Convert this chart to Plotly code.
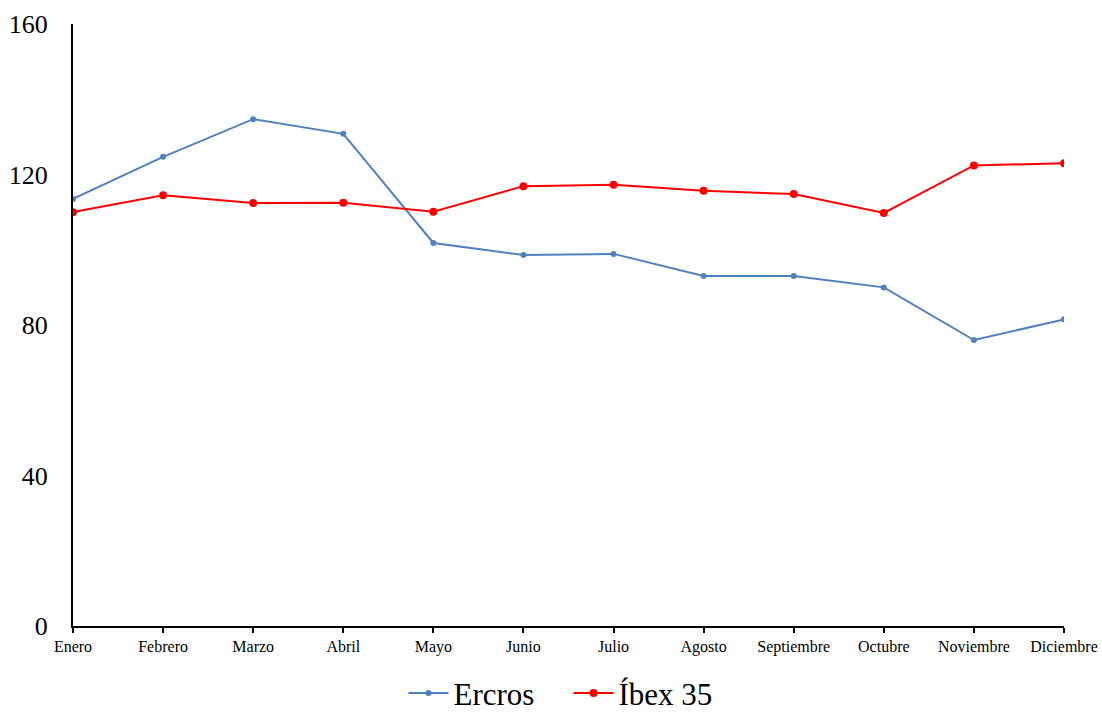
import plotly.graph_objects as go

months = ["Enero", "Febrero", "Marzo", "Abril", "Mayo", "Junio", "Julio",
          "Agosto", "Septiembre", "Octubre", "Noviembre", "Diciembre"]
ercros = [113.5, 124.7, 134.7, 130.8, 101.8, 98.6, 98.9, 93.0, 93.0, 90.0, 76.0, 81.5]
ibex = [110.0, 114.5, 112.4, 112.5, 110.1, 116.9, 117.3, 115.7, 114.8, 109.8, 122.4, 123.0]
y_ticks = [0, 40, 80, 120, 160]

xpos = list(range(len(months)))
FONT = "Liberation Serif, Times New Roman, serif"

fig = go.Figure()
fig.add_trace(go.Scatter(x=xpos, y=ercros, name="Ercros", mode="lines+markers",
                         line=dict(color="#4F81BD", width=2),
                         marker=dict(color="#4F81BD", size=6)))
fig.add_trace(go.Scatter(x=xpos, y=ibex, name="Íbex 35", mode="lines+markers",
                         line=dict(color="#FF0000", width=2),
                         marker=dict(color="#FF0000", size=8)))

fig.update_layout(
    width=1102, height=713,
    margin=dict(l=73, r=38, t=24, b=87, autoexpand=False),
    paper_bgcolor="white", plot_bgcolor="white",
    font=dict(family=FONT, color="black"),
    showlegend=True,
    legend=dict(orientation="h", x=0.5, xanchor="center", y=-0.112, yanchor="middle",
                font=dict(size=31, family=FONT), itemwidth=40,
                entrywidth=110, entrywidthmode="pixels"),
    xaxis=dict(range=[0, 11], tickvals=xpos, ticktext=months, automargin=False,
               showgrid=False, zeroline=False, showline=True, linecolor="black", linewidth=2,
               ticks="outside", ticklen=5, tickwidth=1.5, tickcolor="black",
               tickfont=dict(size=16, family=FONT), tickangle=0),
    yaxis=dict(range=[0, 160], tickvals=y_ticks, automargin=False,
               showgrid=False, zeroline=False, showline=True, linecolor="black", linewidth=2,
               ticks="", tickfont=dict(size=26, family=FONT), ticklabelstandoff=18),
)

fig.write_html("out.html", config={"displayModeBar": False},
               post_script="document.body.style.margin='0';")
